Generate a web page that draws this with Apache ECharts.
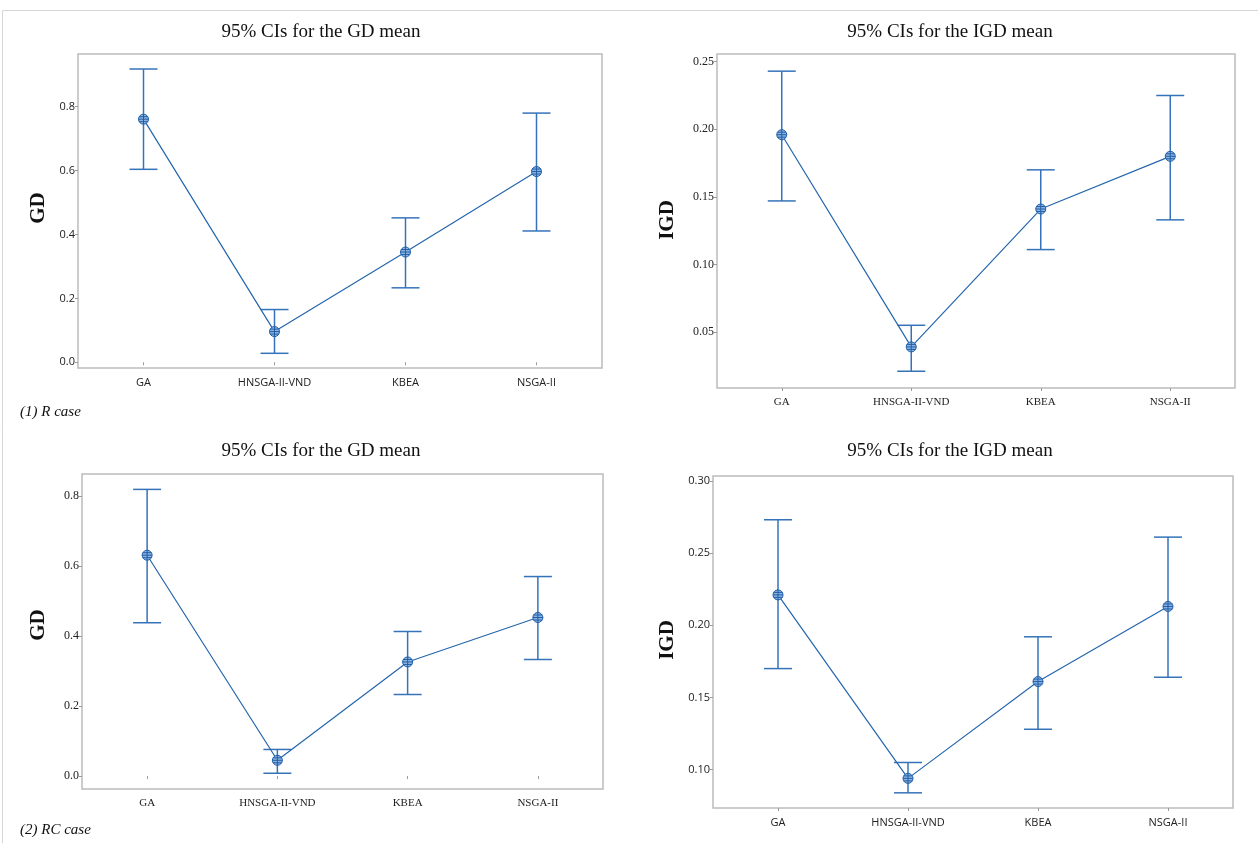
<!DOCTYPE html>
<html>
<head>
<meta charset="utf-8">
<script src="https://cdn.jsdelivr.net/npm/echarts@6/dist/echarts.min.js"></script>
<style>html,body{margin:0;padding:0;background:#fff;}#c{width:1258px;height:843px;}</style>
</head>
<body>
<div id="c"></div>
<script>
const categories = ['GA', 'HNSGA-II-VND', 'KBEA', 'NSGA-II'];

const rGdMean = [0.761, 0.096, 0.345, 0.597];
const rGdLow  = [0.604, 0.028, 0.233, 0.411];
const rGdHigh = [0.918, 0.165, 0.452, 0.780];

const rIgdMean = [0.196, 0.039, 0.141, 0.180];
const rIgdLow  = [0.147, 0.021, 0.111, 0.133];
const rIgdHigh = [0.243, 0.055, 0.170, 0.225];

const rcGdMean = [0.631, 0.045, 0.326, 0.453];
const rcGdLow  = [0.438, 0.008, 0.233, 0.333];
const rcGdHigh = [0.819, 0.076, 0.413, 0.570];

const rcIgdMean = [0.221, 0.094, 0.161, 0.213];
const rcIgdLow  = [0.170, 0.084, 0.128, 0.164];
const rcIgdHigh = [0.273, 0.105, 0.192, 0.261];

const gdTicks = [0.0, 0.2, 0.4, 0.6, 0.8];
const rIgdTicks = [0.05, 0.10, 0.15, 0.20, 0.25];
const rcIgdTicks = [0.10, 0.15, 0.20, 0.25, 0.30];

const titleGD = '95% CIs for the GD mean';
const titleIGD = '95% CIs for the IGD mean';

const SERIF = '"Liberation Serif", "DejaVu Serif", serif';
const SANS = '"Open Sans", "Noto Sans", sans-serif';
const LINE = '#2466ad';
const BAR = '#3573b9';

const panels = [
  {grid:{left:78, top:54, width:524, height:314}, min:-0.018, max:0.965, ticks:gdTicks, dec:1, font:SANS, mean:rGdMean, low:rGdLow, high:rGdHigh},
  {grid:{left:717, top:54, width:518, height:334}, min:0.0086, max:0.2557, ticks:rIgdTicks, dec:2, font:SERIF, mean:rIgdMean, low:rIgdLow, high:rIgdHigh},
  {grid:{left:82, top:474, width:521, height:315}, min:-0.037, max:0.863, ticks:gdTicks, dec:1, font:SERIF, mean:rcGdMean, low:rcGdLow, high:rcGdHigh},
  {grid:{left:713, top:476, width:520, height:332}, min:0.0735, max:0.3033, ticks:rcIgdTicks, dec:2, font:SANS, mean:rcIgdMean, low:rcIgdLow, high:rcIgdHigh}
];

const markerPath = 'path://M-5,0 A5,5 0 1,1 5,0 A5,5 0 1,1 -5,0 Z M-5,0 L5,0 M-4.3,-2.5 L4.3,-2.5 M-4.3,2.5 L4.3,2.5 M0,-5 L0,5';

const grids = [], xAxes = [], yAxes = [], series = [];
panels.forEach((p, i) => {
  grids.push(Object.assign({show:true, borderColor:'#bcbcbc', borderWidth:1.5, backgroundColor:'#fff'}, p.grid));
  xAxes.push({
    type:'category', gridIndex:i, data:categories, boundaryGap:true,
    axisLine:{show:false},
    axisTick:{show:true, alignWithLabel:true, length:3, lineStyle:{color:'#9a9a9a'}},
    axisLabel:{color:'#222', fontFamily:p.font, fontSize:11, margin:9},
    splitLine:{show:false}
  });
  yAxes.push({
    type:'value', gridIndex:i, min:p.min, max:p.max,
    axisLine:{show:false},
    splitLine:{show:false},
    axisTick:{show:true, length:3, lineStyle:{color:'#9a9a9a'}, customValues:p.ticks},
    axisLabel:{color:'#222', fontFamily:p.font, fontSize:p.font===SERIF?12:11, margin:3,
      customValues:p.ticks, formatter:v => v.toFixed(p.dec)}
  });
  series.push({
    type:'custom', xAxisIndex:i, yAxisIndex:i, z:2,
    data: categories.map((c, k) => [k, p.low[k], p.high[k]]),
    encode:{x:0, y:[1,2]},
    renderItem:function(params, api){
      const x = api.value(0);
      const lo = api.coord([x, api.value(1)]);
      const hi = api.coord([x, api.value(2)]);
      const hw = 14;
      const st = {stroke:BAR, lineWidth:1.5};
      return {type:'group', children:[
        {type:'line', shape:{x1:lo[0], y1:lo[1], x2:hi[0], y2:hi[1]}, style:st},
        {type:'line', shape:{x1:lo[0]-hw, y1:lo[1], x2:lo[0]+hw, y2:lo[1]}, style:st},
        {type:'line', shape:{x1:hi[0]-hw, y1:hi[1], x2:hi[0]+hw, y2:hi[1]}, style:st}
      ]};
    }
  });
  series.push({
    type:'line', xAxisIndex:i, yAxisIndex:i, z:3,
    data:p.mean,
    symbol:markerPath, symbolSize:10, showAllSymbol:true,
    lineStyle:{color:LINE, width:1.2},
    itemStyle:{color:'#8fb3e0', borderColor:'#1f5fa8', borderWidth:1, opacity:1},
    emphasis:{disabled:true},
    animation:false
  });
});

const textEl = (txt, x, y, font, opts) => Object.assign({
  type:'text', x:x, y:y,
  style:{text:txt, font:font, fill:'#111', textAlign:'center', textVerticalAlign:'middle'}
}, opts || {});

const graphics = [
  {type:'polyline', shape:{points:[[2.5,843],[2.5,10.5],[1258,10.5]]}, style:{stroke:'#d6d6d6', lineWidth:1, fill:null}},
  textEl(titleGD, 321, 32, '19px ' + SERIF),
  textEl(titleIGD, 950, 32, '19px ' + SERIF),
  textEl(titleGD, 321, 451, '19px ' + SERIF),
  textEl(titleIGD, 950, 451, '19px ' + SERIF),
  textEl('GD', 39, 208, 'bold 21px ' + SERIF, {rotation:Math.PI/2}),
  textEl('IGD', 668, 220, 'bold 21px ' + SERIF, {rotation:Math.PI/2}),
  textEl('GD', 39, 625, 'bold 21px ' + SERIF, {rotation:Math.PI/2}),
  textEl('IGD', 668, 640, 'bold 21px ' + SERIF, {rotation:Math.PI/2}),
  {type:'text', x:20, y:412, style:{text:'(1) R case', font:'italic 15px ' + SERIF, fill:'#111', textAlign:'left', textVerticalAlign:'middle'}},
  {type:'text', x:20, y:830, style:{text:'(2) RC case', font:'italic 15px ' + SERIF, fill:'#111', textAlign:'left', textVerticalAlign:'middle'}}
];

const chart = echarts.init(document.getElementById('c'), null, {renderer:'canvas'});
chart.setOption({
  animation:false,
  backgroundColor:'#fff',
  grid:grids, xAxis:xAxes, yAxis:yAxes, series:series,
  graphic:graphics
});
</script>
</body>
</html>
